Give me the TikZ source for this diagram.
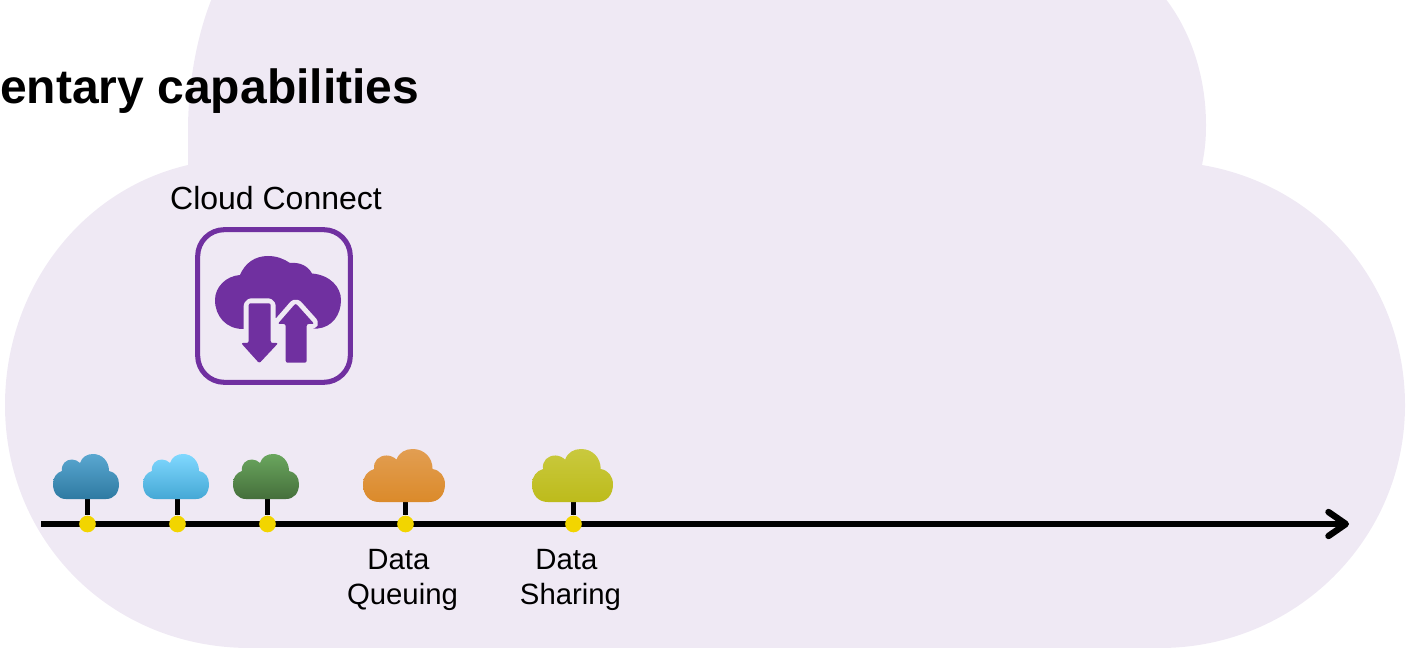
\documentclass[tikz,border=0pt]{standalone}
\usepackage{fontspec}
\setmainfont{Liberation Sans}
\usetikzlibrary{arrows.meta,backgrounds}
\definecolor{bgcloud}{HTML}{EFE9F4}
\definecolor{iconpurple}{HTML}{7030A0}
\definecolor{dotyellow}{HTML}{F2D500}
\definecolor{blueA}{HTML}{5AA7D0}\definecolor{blueB}{HTML}{2E7AA2}
\definecolor{skyA}{HTML}{80D8FF}\definecolor{skyB}{HTML}{45A8D5}
\definecolor{greenA}{HTML}{6AA65E}\definecolor{greenB}{HTML}{456F3B}
\definecolor{orangeA}{HTML}{E29E52}\definecolor{orangeB}{HTML}{DB8A2A}
\definecolor{limeA}{HTML}{C9C93E}\definecolor{limeB}{HTML}{BDBB1B}
\tikzset{
  x=0.75pt,y=-0.75pt,
  titletext/.style={anchor=base west,inner sep=0pt,font=\fontsize{36}{43}\selectfont\bfseries},
  captiontext/.style={anchor=base,inner sep=0pt,font=\fontsize{24}{29}\selectfont},
  labeltext/.style={anchor=base,inner sep=0pt,align=center,font=\fontsize{22}{26.25}\selectfont},
  dotnode/.style={circle,fill=dotyellow,minimum size=12.5pt,inner sep=0pt},
  stem/.style={line width=4pt,black},
  axisline/.style={line width=4pt,black,-{Straight Barb[length=13pt,width=18pt,round,line width=4.8pt]}},
  iconbox/.style={draw=iconpurple,line width=3.8pt,rounded corners=20pt,minimum size=114.5pt,inner sep=0pt},
  halo/.style={draw=bgcloud,line width=7.5pt,line join=round,fill=bgcloud,rounded corners=2pt},
  iconfill/.style={fill=iconpurple,rounded corners=1.5pt},
  pics/smallcloud/.style n args={2}{code={
    \path[top color=#1,bottom color=#2]
      (13,45) -- (53,45) .. controls (61,45) and (66,39) .. (66,30)
      .. controls (66,23) and (62,18) .. (56,17)
      .. controls (56,7) and (49,0) .. (40,0)
      .. controls (34,0) and (29,3) .. (27,9)
      .. controls (25,7) and (22,5.5) .. (19,5.5)
      .. controls (13,5.5) and (8,10) .. (9,17)
      .. controls (4,18.5) and (0,23) .. (0,30)
      .. controls (0,39) and (5,45) .. (13,45) -- cycle;
    \coordinate (-b) at (33,45);
  }}
}
\begin{document}
\begin{tikzpicture}
\useasboundingbox (0,0) rectangle (1410,648);
\clip (0,0) rectangle (1410,648);
% small clouds
\pic (c1) at (53,454) {smallcloud={blueA}{blueB}};
\pic (c2) at (143,454) {smallcloud={skyA}{skyB}};
\pic (c3) at (233,454) {smallcloud={greenA}{greenB}};
\pic[xscale=1.242,yscale=1.178] (c4) at (363,449) {smallcloud={orangeA}{orangeB}};
\pic[xscale=1.227,yscale=1.178] (c5) at (532,449) {smallcloud={limeA}{limeB}};
% dots on the axis
\node[dotnode] (d1) at (87.5,524) {};
\node[dotnode] (d2) at (177.5,524) {};
\node[dotnode] (d3) at (267.5,524) {};
\node[dotnode] (d4) at (405.5,524) {};
\node[dotnode] (d5) at (573.5,524) {};
\coordinate (axisstart) at (41,524);
\coordinate (axisend) at (1349,524);
% texts
\node[titletext] (title) at (0,104) {entary capabilities};
\node[captiontext] (caption) at (276,210) {Cloud Connect};
\node[labeltext] (queue) at (402.5,604) {Data\hspace*{6.1pt}\\Queuing};
\node[labeltext] (share) at (570.5,604) {Data\hspace*{6.1pt}\\Sharing};
% icon
\node[iconbox] (icon) at (274,306) {};
\fill[iconpurple] (243,329) .. controls (226,329) and (215,316) .. (215,300)
  .. controls (215,287) and (226,276) .. (240,275)
  .. controls (245,263) and (255,256) .. (268,256)
  .. controls (277,256) and (284,259) .. (290,263)
  .. controls (300,262) and (308,266) .. (312,273.5)
  .. controls (330,275) and (341,287) .. (341,300)
  .. controls (341,315) and (332,327) .. (318,328.5) -- cycle;
\fill[bgcloud] (270,318) rectangle (287,331);
\draw[halo] (295.7,303.3) -- (314.3,324) -- (306.7,324) -- (306.7,362.7) -- (285.7,362.7) -- (285.7,324) -- (277.7,324) -- cycle;
\draw[halo] (248.7,303.3) -- (270.7,303.3) -- (270.7,343) -- (278.3,343) -- (259.3,363.3) -- (241,343) -- (248.7,343) -- cycle;
\fill[iconfill] (295.7,303.3) -- (314.3,324) -- (306.7,324) -- (306.7,362.7) -- (285.7,362.7) -- (285.7,324) -- (277.7,324) -- cycle;
\fill[iconfill] (248.7,303.3) -- (270.7,303.3) -- (270.7,343) -- (278.3,343) -- (259.3,363.3) -- (241,343) -- (248.7,343) -- cycle;
% background layer
\begin{pgfonlayer}{background}
\fill[bgcloud] (188,165) .. controls (80,190) and (5,290) .. (5,405)
  .. controls (5,540) and (110,648) .. (250,648) -- (1160,648)
  .. controls (1295,648) and (1405,540) .. (1405,405)
  .. controls (1405,285) and (1320,185) .. (1202,165)
  .. controls (1205,150) and (1206,140) .. (1206,125)
  .. controls (1206,75) and (1190,30) .. (1165,-2) -- (212,-2)
  .. controls (195,40) and (188,90) .. (188,130) -- cycle;
\draw[axisline] (axisstart) -- (axisend);
\foreach \i in {1,...,5} \draw[stem] (d\i |- c\i-b) -- (d\i);
\end{pgfonlayer}
\end{tikzpicture}
\end{document}
